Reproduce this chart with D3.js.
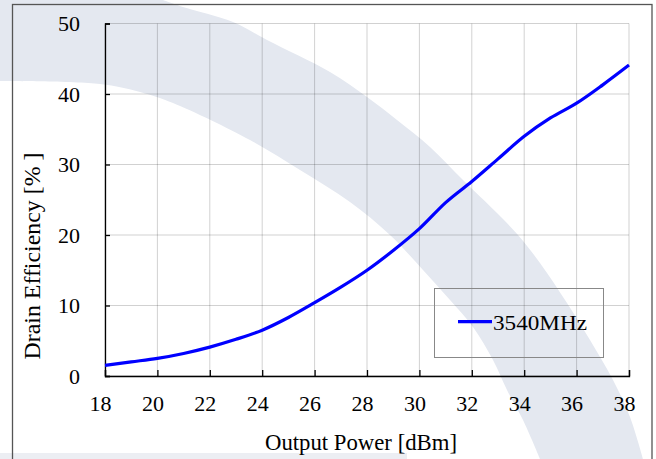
<!DOCTYPE html>
<html>
<head>
<meta charset="utf-8">
<script src="https://cdn.jsdelivr.net/npm/d3@7"></script>
<style>
  body { margin: 0; background: #fff; }
  svg { display: block; font-family: "Liberation Serif", "Times New Roman", serif; }
</style>
</head>
<body>
<svg id="chart"></svg>
<script>
// data
const power = [18, 19, 20, 21, 22, 23, 24, 25, 26, 27, 28, 29, 30, 31, 32, 33, 34, 35, 36, 37, 38];
const eff3540 = [1.5, 2.0, 2.5, 3.2, 4.1, 5.2, 6.5, 8.3, 10.4, 12.6, 15.0, 17.8, 20.9, 24.6, 27.6, 30.8, 34.0, 36.6, 38.7, 41.3, 44.1];
const xTicks = [18, 20, 22, 24, 26, 28, 30, 32, 34, 36, 38];
const yTicks = [0, 10, 20, 30, 40, 50];
const seriesName = "3540MHz";

// background watermark band (page pixels)
const bandTop = [[163,0],[183,7],[233,22],[267,40],[330,72],[367,97],[397,120],[430,147],[463,180],[497,213],[518,235],[540,263],[567,303],[590,340],[613,380],[630,417],[643,459]];
const bandBottom = [[540,459],[523,420],[507,390],[493,360],[473,327],[450,300],[423,270],[390,235],[350,202],[300,170],[250,140],[173,103],[140,92],[100,84],[0,81]];

function drawChart(selector){
  const width = 656, height = 459;
  const margin = { top: 23.5, right: 27, bottom: 83, left: 105 };

  const svg = d3.select(selector)
    .attr("width", width)
    .attr("height", height);

  const x = d3.scaleLinear()
    .domain([18, 38])
    .range([margin.left, width - margin.right]);

  const y = d3.scaleLinear()
    .domain([0, 50])
    .range([height - margin.bottom, margin.top]);

  // watermark first
  const edge = d3.line().curve(d3.curveCatmullRom);
  const bandPath = edge(bandTop) + "L" + edge(bandBottom).slice(1) + "L0,0Z";
  svg.append("path")
    .attr("d", bandPath)
    .attr("fill", "#e4e8f0");

  svg.append("rect")
    .attr("x", 0).attr("y", 453)
    .attr("width", 407).attr("height", 6)
    .attr("fill", "#eceef3");

  // outer frame
  svg.append("rect")
    .attr("x", 12.5).attr("y", 4.5)
    .attr("width", 639.5).attr("height", 480)
    .attr("fill", "none")
    .attr("stroke", "#555")
    .attr("stroke-width", 1.3);

  // grid, translucent so it darkens over the band
  svg.append("g")
    .selectAll("line")
    .data(xTicks)
    .join("line")
      .attr("x1", d => x(d)).attr("x2", d => x(d))
      .attr("y1", y(0)).attr("y2", y(50))
      .attr("stroke", "#000")
      .attr("stroke-opacity", 0.18);

  svg.append("g")
    .selectAll("line")
    .data(yTicks)
    .join("line")
      .attr("x1", x(18)).attr("x2", x(38))
      .attr("y1", d => y(d)).attr("y2", d => y(d))
      .attr("stroke", "#000")
      .attr("stroke-opacity", 0.18);

  // axes, ticks inside
  svg.append("g")
    .attr("transform", `translate(0,${y(0)})`)
    .call(d3.axisBottom(x).tickValues(xTicks).tickSize(-6).tickFormat(""))
    .call(g => g.selectAll("line,path").attr("stroke", "#000").attr("stroke-width", 1.3));

  svg.append("g")
    .attr("transform", `translate(${x(18)},0)`)
    .call(d3.axisLeft(y).tickValues(yTicks).tickSize(-5).tickFormat(""))
    .call(g => g.selectAll("line,path").attr("stroke", "#000").attr("stroke-width", 1.3));

  // tick labels
  svg.append("g")
    .selectAll("text")
    .data(xTicks)
    .join("text")
      .attr("x", d => x(d) - 4.5)
      .attr("y", 411)
      .attr("text-anchor", "middle")
      .attr("font-size", "22px")
      .text(d => d);

  svg.append("g")
    .selectAll("text")
    .data(yTicks)
    .join("text")
      .attr("x", 80)
      .attr("y", d => y(d))
      .attr("dy", "0.35em")
      .attr("text-anchor", "end")
      .attr("font-size", "22px")
      .text(d => d);

  // axis titles
  svg.append("text")
    .attr("x", 361)
    .attr("y", 450)
    .attr("text-anchor", "middle")
    .attr("font-size", "23px")
    .attr("textLength", 192)
    .attr("lengthAdjust", "spacingAndGlyphs")
    .text("Output Power [dBm]");

  svg.append("text")
    .attr("transform", "translate(40,256) rotate(-90)")
    .attr("text-anchor", "middle")
    .attr("font-size", "24px")
    .attr("textLength", 207)
    .attr("lengthAdjust", "spacingAndGlyphs")
    .text("Drain Efficiency [% ]");

  // series
  const line = d3.line()
    .x((d, i) => x(power[i]))
    .y(d => y(d))
    .curve(d3.curveMonotoneX);

  svg.append("path")
    .datum(eff3540)
    .attr("d", line)
    .attr("fill", "none")
    .attr("stroke", "#0000ff")
    .attr("stroke-width", 3.2);

  // legend
  const lg = svg.append("g");
  lg.append("rect")
    .attr("x", 434.5).attr("y", 288.5)
    .attr("width", 169).attr("height", 69)
    .attr("fill", "none")
    .attr("stroke", "#888");
  lg.append("line")
    .attr("x1", 458).attr("x2", 492)
    .attr("y1", 321.7).attr("y2", 321.7)
    .attr("stroke", "#0000ff")
    .attr("stroke-width", 3.2);
  lg.append("text")
    .attr("x", 493)
    .attr("y", 330)
    .attr("font-size", "22px")
    .attr("textLength", 94)
    .attr("lengthAdjust", "spacingAndGlyphs")
    .text(seriesName);
}

drawChart("#chart");
</script>
</body>
</html>
